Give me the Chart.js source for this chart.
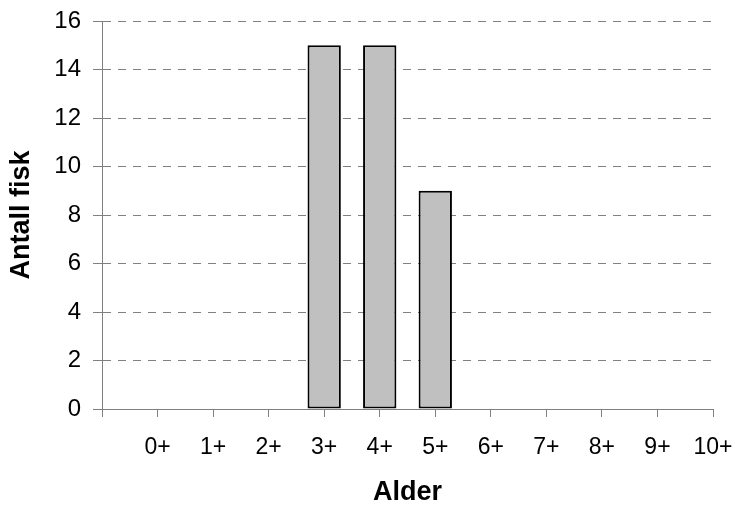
<!DOCTYPE html>
<html>
<head>
<meta charset="utf-8">
<script src="https://cdn.jsdelivr.net/npm/chart.js@4/dist/chart.umd.min.js"></script>
<style>
  html, body { margin: 0; padding: 0; background: #ffffff; }
  #wrap { width: 735px; height: 511px; }
</style>
</head>
<body>
<div id="wrap"><canvas id="chart" width="735" height="511"></canvas></div>
<script>
// Age classes and number of fish in each
const ageClasses = ['0+', '1+', '2+', '3+', '4+', '5+', '6+', '7+', '8+', '9+', '10+'];
const fishCounts = [0, 0, 0, 15, 15, 9, 0, 0, 0, 0, 0];
const yTicks = [0, 2, 4, 6, 8, 10, 12, 14, 16];

const FONT = "'Liberation Sans', Arial, Helvetica, sans-serif";
const AXIS_GREY = '#808080';

// A blank leading slot puts the first tick on the value axis
const labels = [''].concat(ageClasses);
const values = [null].concat(fishCounts);

new Chart(document.getElementById('chart'), {
  type: 'bar',
  data: {
    labels: labels,
    datasets: [{
      label: 'Antall fisk',
      data: values,
      backgroundColor: '#c0c0c0',
      borderColor: '#000000',
      borderWidth: 2,
      borderSkipped: false,
      barPercentage: 1,
      categoryPercentage: 0.6
    }]
  },
  options: {
    responsive: false,
    devicePixelRatio: 1,
    animation: false,
    layout: { padding: { top: 21, right: 22, left: 0, bottom: 0 } },
    plugins: {
      legend: { display: false },
      tooltip: { enabled: false }
    },
    scales: {
      x: {
        type: 'category',
        offset: false,
        grid: {
          offset: false,
          drawOnChartArea: false,
          drawTicks: true,
          tickLength: 8,
          tickColor: AXIS_GREY,
          color: AXIS_GREY
        },
        border: { display: true, color: AXIS_GREY, width: 1 },
        ticks: {
          color: '#000000',
          font: { family: FONT, size: 23 },
          padding: 17,
          maxRotation: 0,
          autoSkip: false
        },
        title: {
          display: true,
          text: 'Alder',
          color: '#000000',
          font: { family: FONT, size: 27, weight: 'bold' },
          padding: { top: 0, bottom: 2 }
        },
        afterFit: (scale) => {
          scale.height = 102;
          scale.paddingLeft = 0;
          scale.paddingRight = 0;
        }
      },
      y: {
        min: 0,
        max: 16,
        afterBuildTicks: (scale) => { scale.ticks = yTicks.map(v => ({ value: v })); },
        grid: {
          color: AXIS_GREY,
          lineWidth: 1,
          drawTicks: true,
          tickLength: 9,
          tickColor: AXIS_GREY,
          tickBorderDash: []
        },
        border: { display: true, color: AXIS_GREY, width: 1, dash: [8, 7] },
        ticks: {
          color: '#000000',
          font: { family: FONT, size: 24 },
          padding: 12
        },
        title: {
          display: true,
          text: 'Antall fisk',
          color: '#000000',
          font: { family: FONT, size: 27, weight: 'bold' },
          padding: { top: 5, bottom: 0 }
        },
        afterFit: (scale) => {
          scale.width = 102;
          scale.paddingTop = 0;
          scale.paddingBottom = 0;
        }
      }
    }
  }
});
</script>
</body>
</html>
